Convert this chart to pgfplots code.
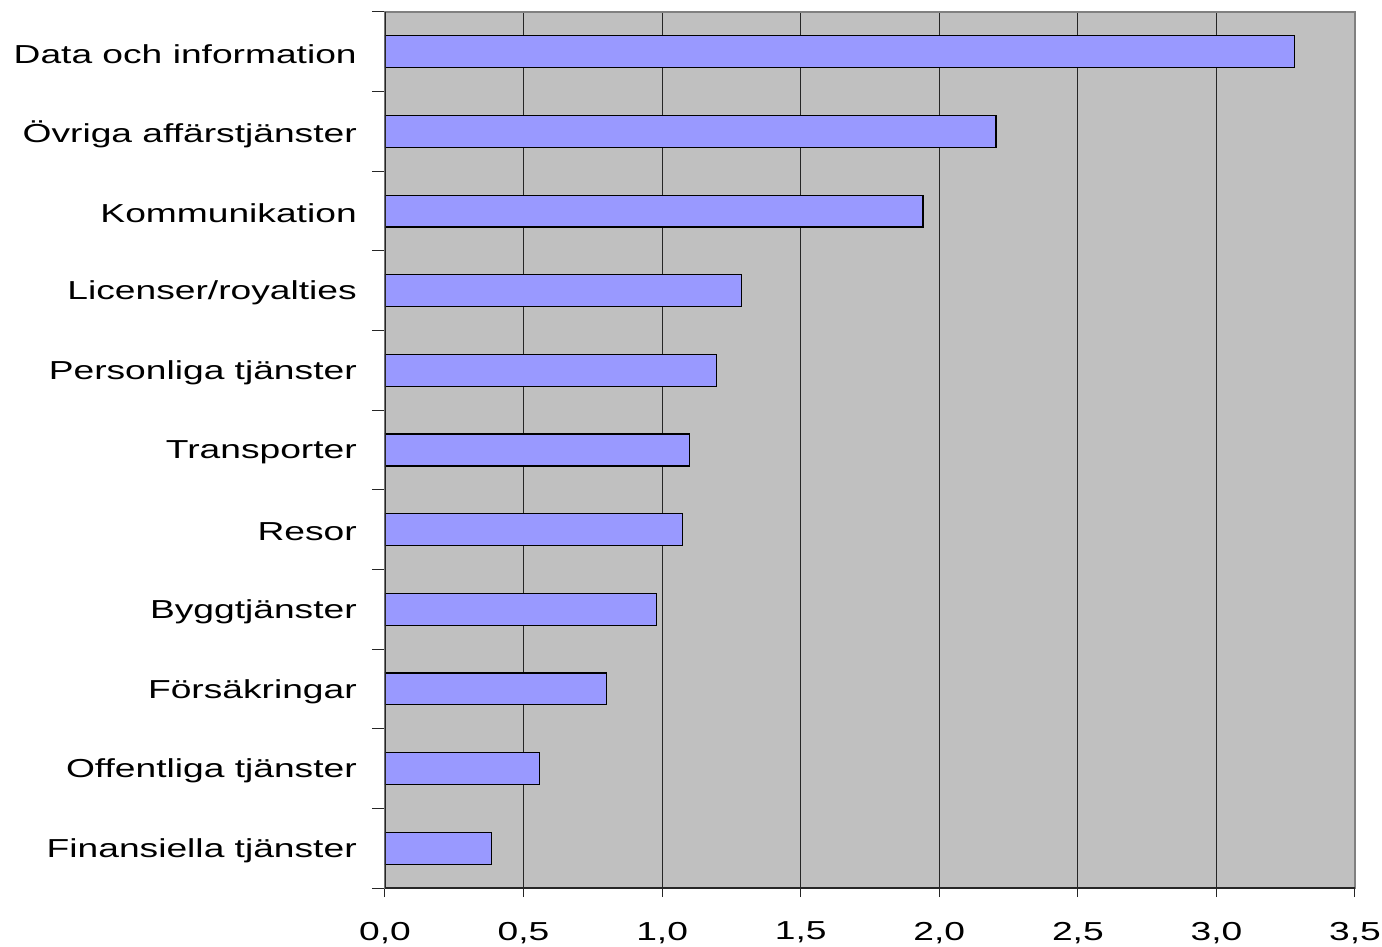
\documentclass[border=0pt]{standalone}
\usepackage{pgfplots}
\pgfplotsset{compat=1.18}
\usepackage{fontspec}
\setmainfont{Liberation Sans}[FakeStretch=1.43]

\definecolor{plotbg}{HTML}{C0C0C0}
\definecolor{barfill}{HTML}{9999FF}
\definecolor{framegray}{HTML}{808080}

\begin{document}
\fontsize{13bp}{15bp}\selectfont
\begin{tikzpicture}
    \begin{axis}[
            scale only axis,
            width=485bp,
            height=438bp,
            xmin=0, xmax=3.5,
            ymin=-0.5, ymax=10.5,
            xbar,
            bar width=0.4,
            axis background/.style={fill=plotbg},
            axis line style={draw=framegray, line width=0.6bp},
            xtick={0,0.5,1,1.5,2,2.5,3,3.5},
            ytick={0,1,2,3,4,5,6,7,8,9,10},
            yticklabels={Finansiella tjänster, Offentliga tjänster, Försäkringar, Byggtjänster, Resor, Transporter, Personliga tjänster, Licenser/royalties, Kommunikation, Övriga affärstjänster, Data och information},
            minor ytick={-0.5,0.5,1.5,2.5,3.5,4.5,5.5,6.5,7.5,8.5,9.5,10.5},
            tick pos=left,
            tick align=outside,
            major tick length=4.5bp,
            minor tick length=6.5bp,
            major y tick style={draw=none},
            minor y tick style={draw=black!85, line width=0.5bp},
            major x tick style={draw=black!85, line width=0.5bp},
            xmajorgrids,
            major x grid style={draw=black!85, line width=0.5bp},
            ticklabel style={font=\fontsize{13bp}{15bp}\selectfont},
            xticklabel style={yshift=-8.0bp},
            yticklabel style={xshift=-5.1bp, yshift=-1.2bp},
            /pgf/number format/.cd, fixed, fixed zerofill, precision=1, use comma, assume math mode=true,
        ]
        \addplot[fill=barfill, draw=black, line width=0.6bp]
        coordinates {
                (0.385, 0)
                (0.557, 1)
                (0.800, 2)
                (0.979, 3)
                (1.074, 4)
                (1.100, 5)
                (1.195, 6)
                (1.285, 7)
                (1.941, 8)
                (2.205, 9)
                (3.283, 10)
            };
        \draw[black!85, line width=0.6bp] (rel axis cs:0,1) -- (rel axis cs:0,0) -- (rel axis cs:1,0);
    \end{axis}
    \pgfresetboundingbox
    \path (-192.5bp,-29.5bp) rectangle (498.5bp,444bp);
\end{tikzpicture}
\end{document}
